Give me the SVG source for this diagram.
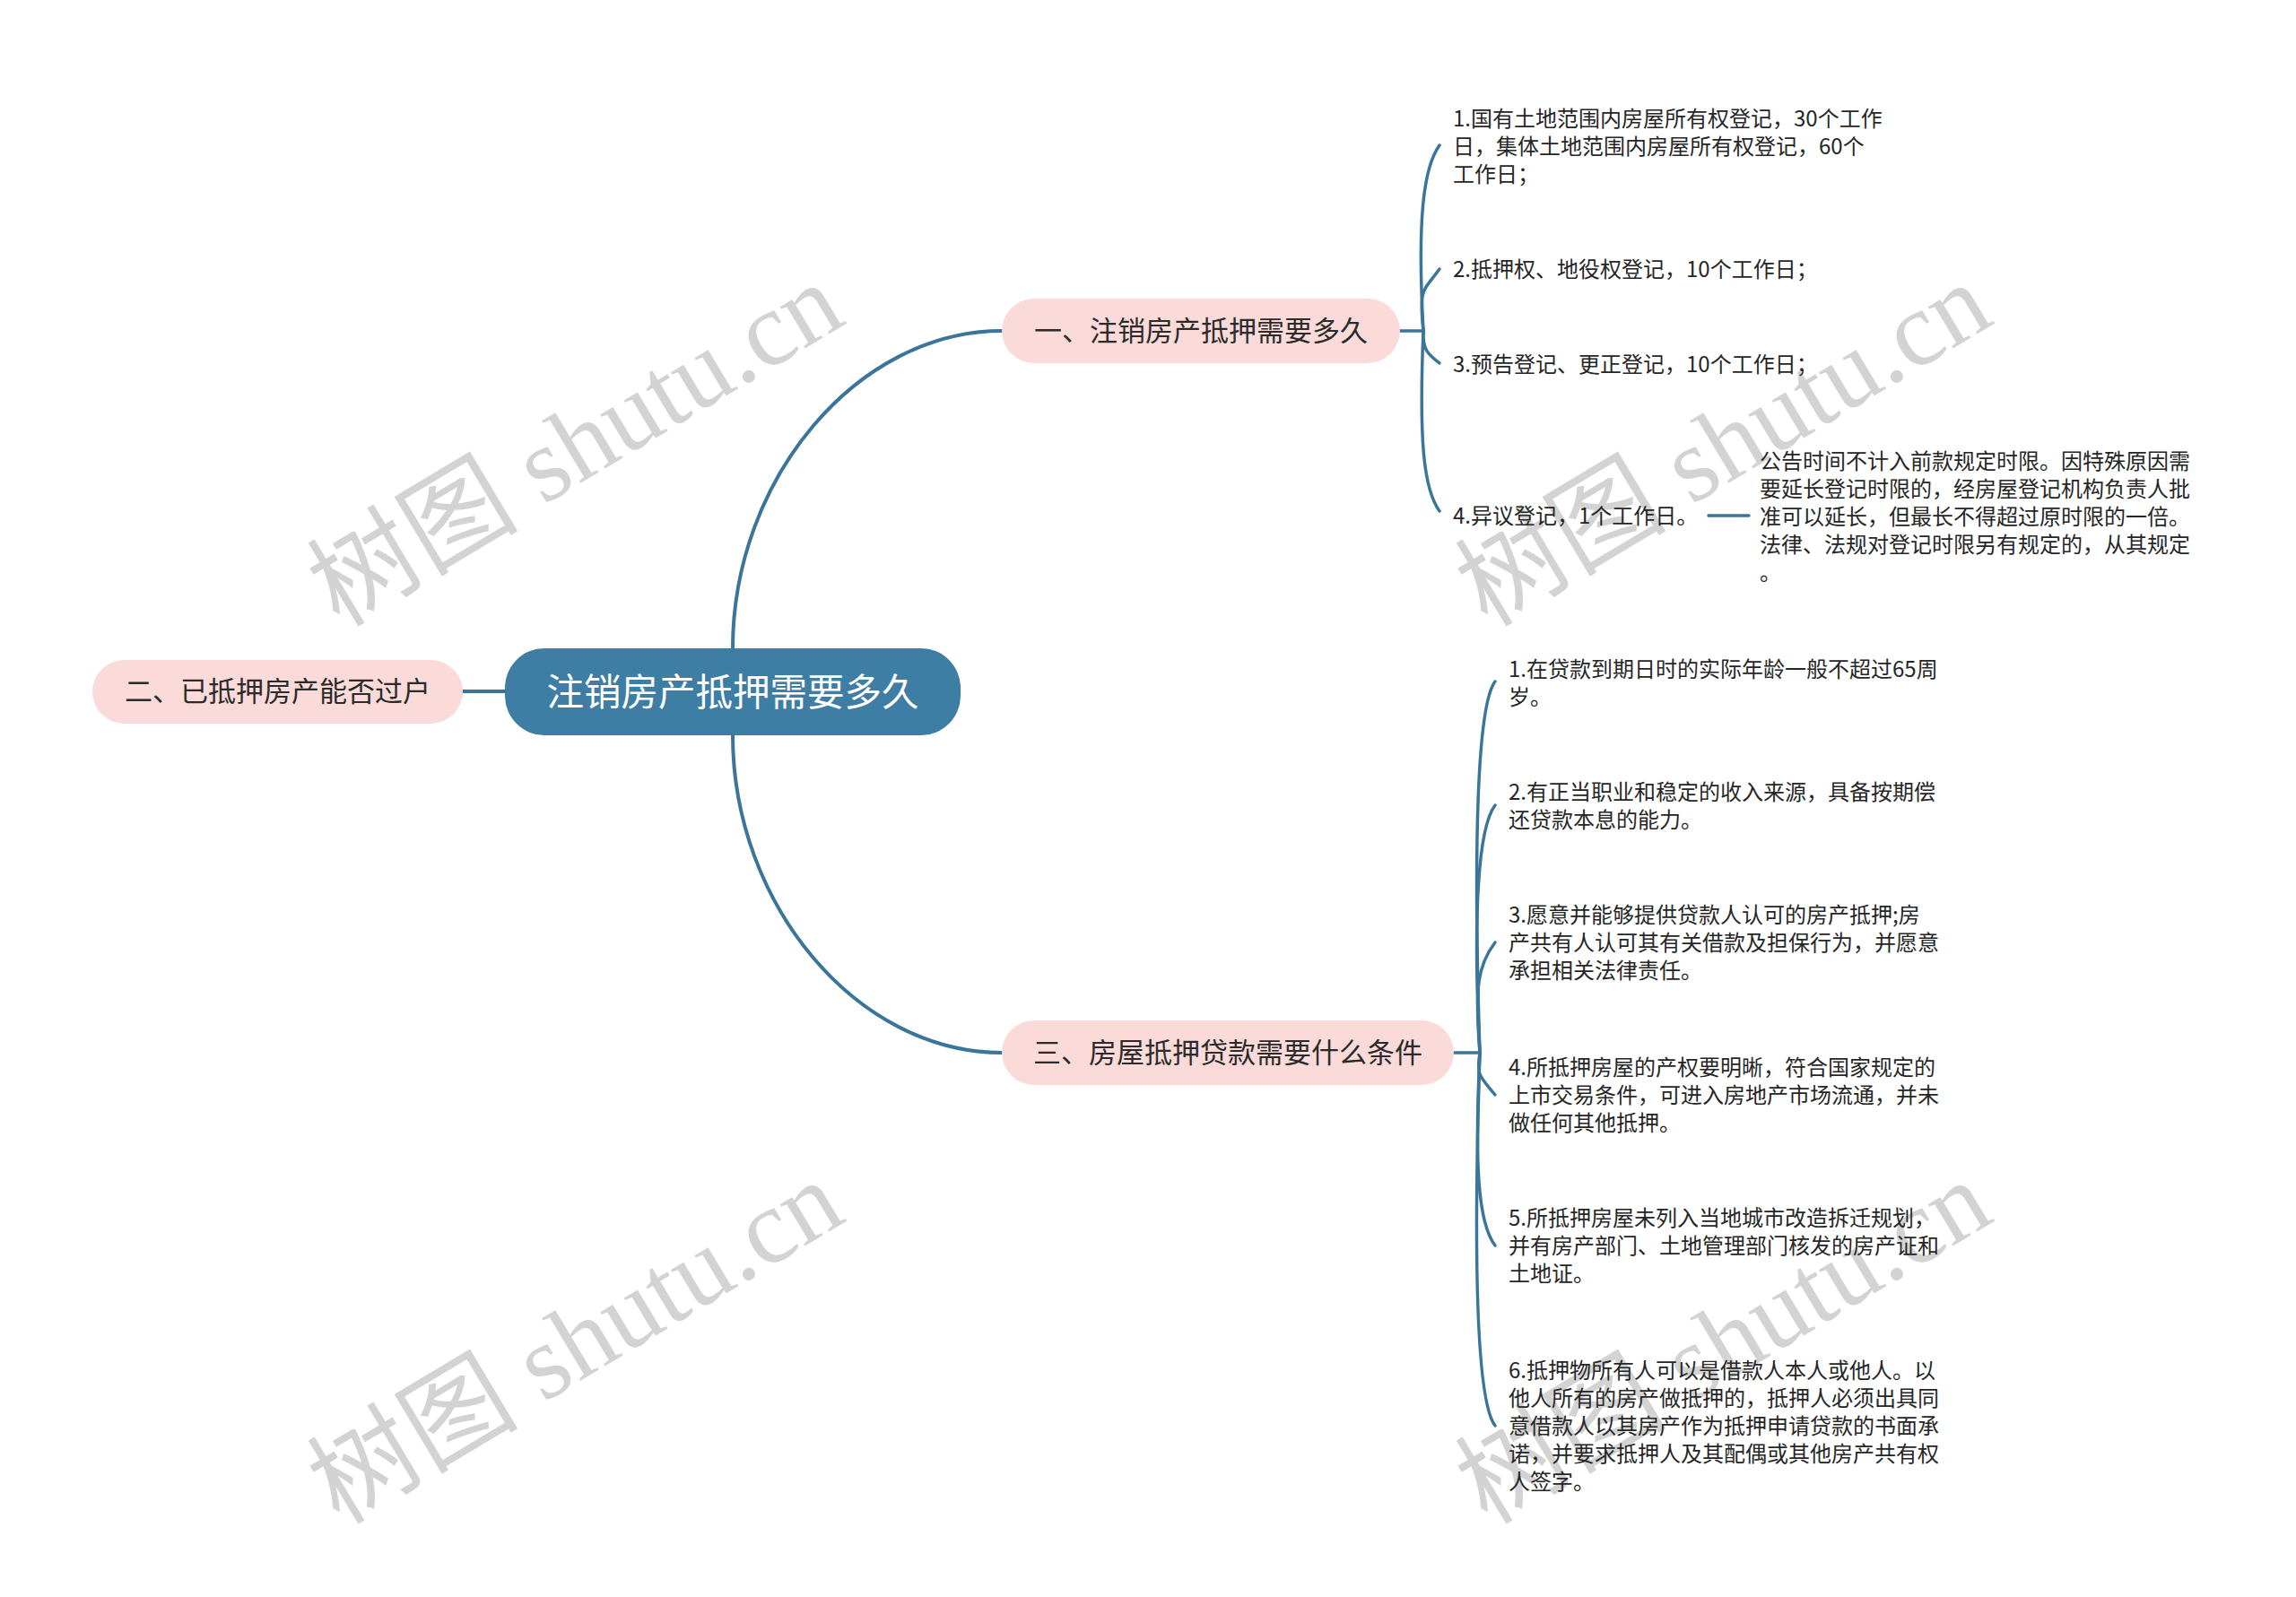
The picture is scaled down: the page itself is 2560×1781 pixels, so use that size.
<svg xmlns="http://www.w3.org/2000/svg" width="2560" height="1781" viewBox="0 0 2560 1781">
<style>
.wm{font-family:"Liberation Serif","Noto Sans CJK SC",serif;font-size:118px;fill:#d3d3d3}
.c{fill:none;stroke:#3b7599;stroke-width:3.5;stroke-linecap:round}
.cm{fill:none;stroke:#3b7599;stroke-width:4;stroke-linecap:round}
.pink{fill:#fadbda}
.t1{font-family:"Noto Sans CJK SC","Noto Sans",sans-serif;font-size:31px;fill:#2b2b2b;text-anchor:middle}
.t0{font-family:"Noto Sans CJK SC","Noto Sans",sans-serif;font-size:41.5px;fill:#ffffff;text-anchor:middle}
.lf{font-family:"Noto Sans CJK SC","Noto Sans",sans-serif;font-size:24px;fill:#262626}
</style>
<rect width="2560" height="1781" fill="#ffffff"/>
<g id="watermarks">
<text class="wm" transform="translate(662,530) rotate(-31)" text-anchor="middle">树图 shutu.cn</text>
<text class="wm" transform="translate(1942,530) rotate(-31)" text-anchor="middle">树图 shutu.cn</text>
<text class="wm" transform="translate(662,1531) rotate(-31)" text-anchor="middle">树图 shutu.cn</text>
<text class="wm" transform="translate(1942,1531) rotate(-31)" text-anchor="middle">树图 shutu.cn</text>
</g>
<g id="connectors">
<path class="cm" d="M 817 723 C 817 535, 955 369, 1117 369"/>
<path class="cm" d="M 817 820 C 817 1008, 955 1174, 1117 1174"/>
<path class="cm" d="M 516 771 L 563 771"/>
<path class="c" d="M 1561 369 L 1587 369"/>
<path class="c" d="M 1587 369 C 1580 245, 1587 187, 1605 162"/>
<path class="c" d="M 1587 369 C 1582 320, 1587 325, 1605 300"/>
<path class="c" d="M 1587 369 C 1586 390, 1592 395, 1605 405"/>
<path class="c" d="M 1587 369 C 1582 490, 1587 545, 1605 570"/>
<path class="c" d="M 1905 575 L 1950 575"/>
<path class="c" d="M 1621 1174 L 1650 1174"/>
<path class="c" d="M 1650 1174 C 1642 930, 1648 785, 1667 760"/>
<path class="c" d="M 1650 1174 C 1642 1020, 1648 923, 1667 898"/>
<path class="c" d="M 1650 1174 C 1644 1100, 1648 1076, 1667 1051"/>
<path class="c" d="M 1650 1174 C 1646 1200, 1650 1200, 1667 1221"/>
<path class="c" d="M 1650 1174 C 1644 1300, 1648 1364, 1667 1389"/>
<path class="c" d="M 1650 1174 C 1642 1424, 1648 1565, 1667 1590"/>
</g>
<g id="root">
<rect x="563" y="723" width="508" height="97" rx="44" fill="#3f7ea4"/>
<text class="t0" x="817" y="787">注销房产抵押需要多久</text>
</g>
<g id="node-2">
<rect class="pink" x="103" y="736" width="413" height="71" rx="35.5"/>
<text class="t1" x="309.5" y="782">二、已抵押房产能否过户</text>
</g>
<g id="node-1">
<rect class="pink" x="1117" y="333" width="444" height="72" rx="36"/>
<text class="t1" x="1339" y="380">一、注销房产抵押需要多久</text>
</g>
<g id="node-3">
<rect class="pink" x="1117" y="1138" width="504" height="72" rx="36"/>
<text class="t1" x="1369" y="1185">三、房屋抵押贷款需要什么条件</text>
</g>
<g id="n1-l1"><text class="lf" x="1620" y="141">1.国有土地范围内房屋所有权登记，30个工作</text><text class="lf" x="1620" y="172">日，集体土地范围内房屋所有权登记，60个</text><text class="lf" x="1620" y="203">工作日；</text></g>
<g id="n1-l2"><text class="lf" x="1620" y="309">2.抵押权、地役权登记，10个工作日；</text></g>
<g id="n1-l3"><text class="lf" x="1620" y="415">3.预告登记、更正登记，10个工作日；</text></g>
<g id="n1-l4"><text class="lf" x="1620" y="584">4.异议登记，1个工作日。</text></g>
<g id="n1-l4-c"><text class="lf" x="1962" y="523">公告时间不计入前款规定时限。因特殊原因需</text><text class="lf" x="1962" y="554">要延长登记时限的，经房屋登记机构负责人批</text><text class="lf" x="1962" y="585">准可以延长，但最长不得超过原时限的一倍。</text><text class="lf" x="1962" y="616">法律、法规对登记时限另有规定的，从其规定</text><text class="lf" x="1962" y="647">。</text></g>
<g id="n3-l1"><text class="lf" x="1682" y="755">1.在贷款到期日时的实际年龄一般不超过65周</text><text class="lf" x="1682" y="786">岁。</text></g>
<g id="n3-l2"><text class="lf" x="1682" y="892">2.有正当职业和稳定的收入来源，具备按期偿</text><text class="lf" x="1682" y="923">还贷款本息的能力。</text></g>
<g id="n3-l3"><text class="lf" x="1682" y="1029">3.愿意并能够提供贷款人认可的房产抵押;房</text><text class="lf" x="1682" y="1060">产共有人认可其有关借款及担保行为，并愿意</text><text class="lf" x="1682" y="1091">承担相关法律责任。</text></g>
<g id="n3-l4"><text class="lf" x="1682" y="1199">4.所抵押房屋的产权要明晰，符合国家规定的</text><text class="lf" x="1682" y="1230">上市交易条件，可进入房地产市场流通，并未</text><text class="lf" x="1682" y="1261">做任何其他抵押。</text></g>
<g id="n3-l5"><text class="lf" x="1682" y="1367">5.所抵押房屋未列入当地城市改造拆迁规划，</text><text class="lf" x="1682" y="1398">并有房产部门、土地管理部门核发的房产证和</text><text class="lf" x="1682" y="1429">土地证。</text></g>
<g id="n3-l6"><text class="lf" x="1682" y="1537">6.抵押物所有人可以是借款人本人或他人。以</text><text class="lf" x="1682" y="1568">他人所有的房产做抵押的，抵押人必须出具同</text><text class="lf" x="1682" y="1599">意借款人以其房产作为抵押申请贷款的书面承</text><text class="lf" x="1682" y="1630">诺，并要求抵押人及其配偶或其他房产共有权</text><text class="lf" x="1682" y="1661">人签字。</text></g>
</svg>
